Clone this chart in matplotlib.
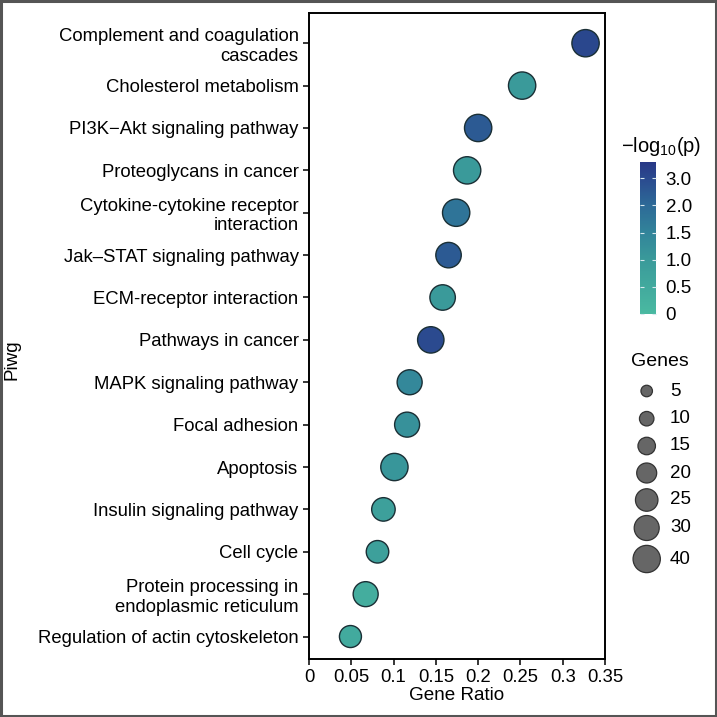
import numpy as np
import matplotlib
matplotlib.use('Agg')
import matplotlib.pyplot as plt
from matplotlib.colors import LinearSegmentedColormap, FuncNorm
from matplotlib.patches import Rectangle

plt.rcParams['font.family'] = ['Liberation Sans', 'DejaVu Sans']

# ---------------- data ----------------
pathways = [
    "Complement and coagulation\ncascades",
    "Cholesterol metabolism",
    "PI3K\u2212Akt signaling pathway",
    "Proteoglycans in cancer",
    "Cytokine-cytokine receptor\ninteraction",
    "Jak\u2013STAT signaling pathway",
    "ECM-receptor interaction",
    "Pathways in cancer",
    "MAPK signaling pathway",
    "Focal adhesion",
    "Apoptosis",
    "Insulin signaling pathway",
    "Cell cycle",
    "Protein processing in\nendoplasmic reticulum",
    "Regulation of actin cytoskeleton",
]
gene_ratio = [0.327, 0.252, 0.200, 0.187, 0.174, 0.165, 0.158, 0.144,
              0.119, 0.116, 0.101, 0.088, 0.081, 0.067, 0.049]
gene_count = [40, 40, 40, 40, 40, 32, 32, 36, 30, 30, 40, 27, 25, 30, 24]
neg_log10_p = [3.1, 1.0, 2.5, 1.0, 1.8, 2.5, 1.0, 3.0, 1.4, 1.2, 1.1, 0.8, 0.8, 0.4, 0.5]

x_ticks = [0, 0.05, 0.1, 0.15, 0.2, 0.25, 0.3, 0.35]
x_ticklabels = ['0', '0.05', '0.1', '0.15', '0.2', '0.25', '0.3', '0.35']
cbar_ticks = [0, 0.5, 1.0, 1.5, 2.0, 3.0]
cbar_ticklabels = ['0', '0.5', '1.0', '1.5', '2.0', '3.0']
size_breaks = [5, 10, 15, 20, 25, 30, 40]

# ---------------- styles ----------------
size_break_diam_px = [11.5, 14.5, 17.5, 20, 22.5, 25, 27.3]
PX2PT = 72 / 100.0


def marker_area(genes):
    d = np.interp(genes, size_breaks, size_break_diam_px) * PX2PT
    return d ** 2


cmap = LinearSegmentedColormap.from_list(
    'tealnavy',
    [(0.0, '#4ab9a1'), (0.357, '#3a9a9a'), (0.536, '#32849a'),
     (0.714, '#2d6a97'), (0.893, '#2b4a8f'), (1.0, '#283886')])

vmax = 3.6
fwd = lambda v: np.interp(v, [0, 2, vmax], [0, 2, 2.8])
inv = lambda v: np.interp(v, [0, 2, 2.8], [0, 2, vmax])
norm = FuncNorm((fwd, inv), vmin=0, vmax=vmax)

W = H = 717
fig = plt.figure(figsize=(W / 100, H / 100), dpi=100)
fig.patch.set_facecolor('white')
fig.patches.append(Rectangle((0.0015, 0.0015), 0.997, 0.997, transform=fig.transFigure,
                             fill=False, edgecolor='#555555', linewidth=2.2))

ax = fig.add_axes([309 / W, (H - 659) / H, (605 - 309) / W, (659 - 12.7) / H])
n = len(pathways)
ypos = np.arange(n)[::-1]
ax.scatter(gene_ratio, ypos, s=marker_area(gene_count), c=neg_log10_p,
           cmap=cmap, norm=norm, edgecolors='#1a2f35', linewidths=1.0, zorder=3)
ax.set_xlim(0, 0.35)
ax.set_ylim(-0.53, n - 1 + 0.72)
ax.set_yticks(ypos)
ax.set_yticklabels(pathways, fontsize=13.3, ha='right')
ax.set_xticks(x_ticks)
ax.set_xticklabels(x_ticklabels, fontsize=13.3)
ax.tick_params(axis='both', length=4, width=1.1, color='black')
ax.tick_params(axis='y', pad=3.5)
ax.tick_params(axis='x', pad=3)
for sp in ax.spines.values():
    sp.set_linewidth(1.4)
ax.set_xlabel('Gene Ratio', fontsize=13.6, labelpad=1)
fig.text(12 / W, 1 - 360 / H, 'Piwg', rotation=90, fontsize=13.6,
         ha='center', va='center')

# ---------------- colorbar ----------------
cax = fig.add_axes([640 / W, (H - 314) / H, 16 / W, (314 - 162) / H])
sm = plt.cm.ScalarMappable(norm=norm, cmap=cmap)
cb = fig.colorbar(sm, cax=cax)
cb.outline.set_visible(False)
cb.set_ticks(cbar_ticks)
cb.set_ticklabels(cbar_ticklabels)
cax.tick_params(axis='y', direction='in', length=3, width=0.8, color='#d8e8ee',
                left=True, right=True, labelsize=13.5, pad=7)
fig.text(661 / W, 1 - 146 / H, r'$\mathregular{-log_{10}(p)}$', fontsize=14.5,
         ha='center', va='center')

# ---------------- size legend ----------------
fig.text(660 / W, 1 - 362 / H, 'Genes', fontsize=14, ha='center', va='center')
lax = fig.add_axes([620 / W, (H - 575) / H, 90 / W, (575 - 375) / H])
lax.set_xlim(0, 90)
lax.set_ylim(575, 375)
lax.axis('off')
ys = 391 + np.array([0, 27.7, 55, 82, 109, 137, 168])
lax.scatter([26.7] * len(size_breaks), ys, s=marker_area(size_breaks),
            c='#666666', edgecolors='#333333', linewidths=0.9, clip_on=False)
for yy, lab in zip(ys, size_breaks):
    lax.text(50, yy, str(lab), fontsize=13.5, ha='left', va='center')

fig.savefig('out.png', dpi=100, facecolor='white')
